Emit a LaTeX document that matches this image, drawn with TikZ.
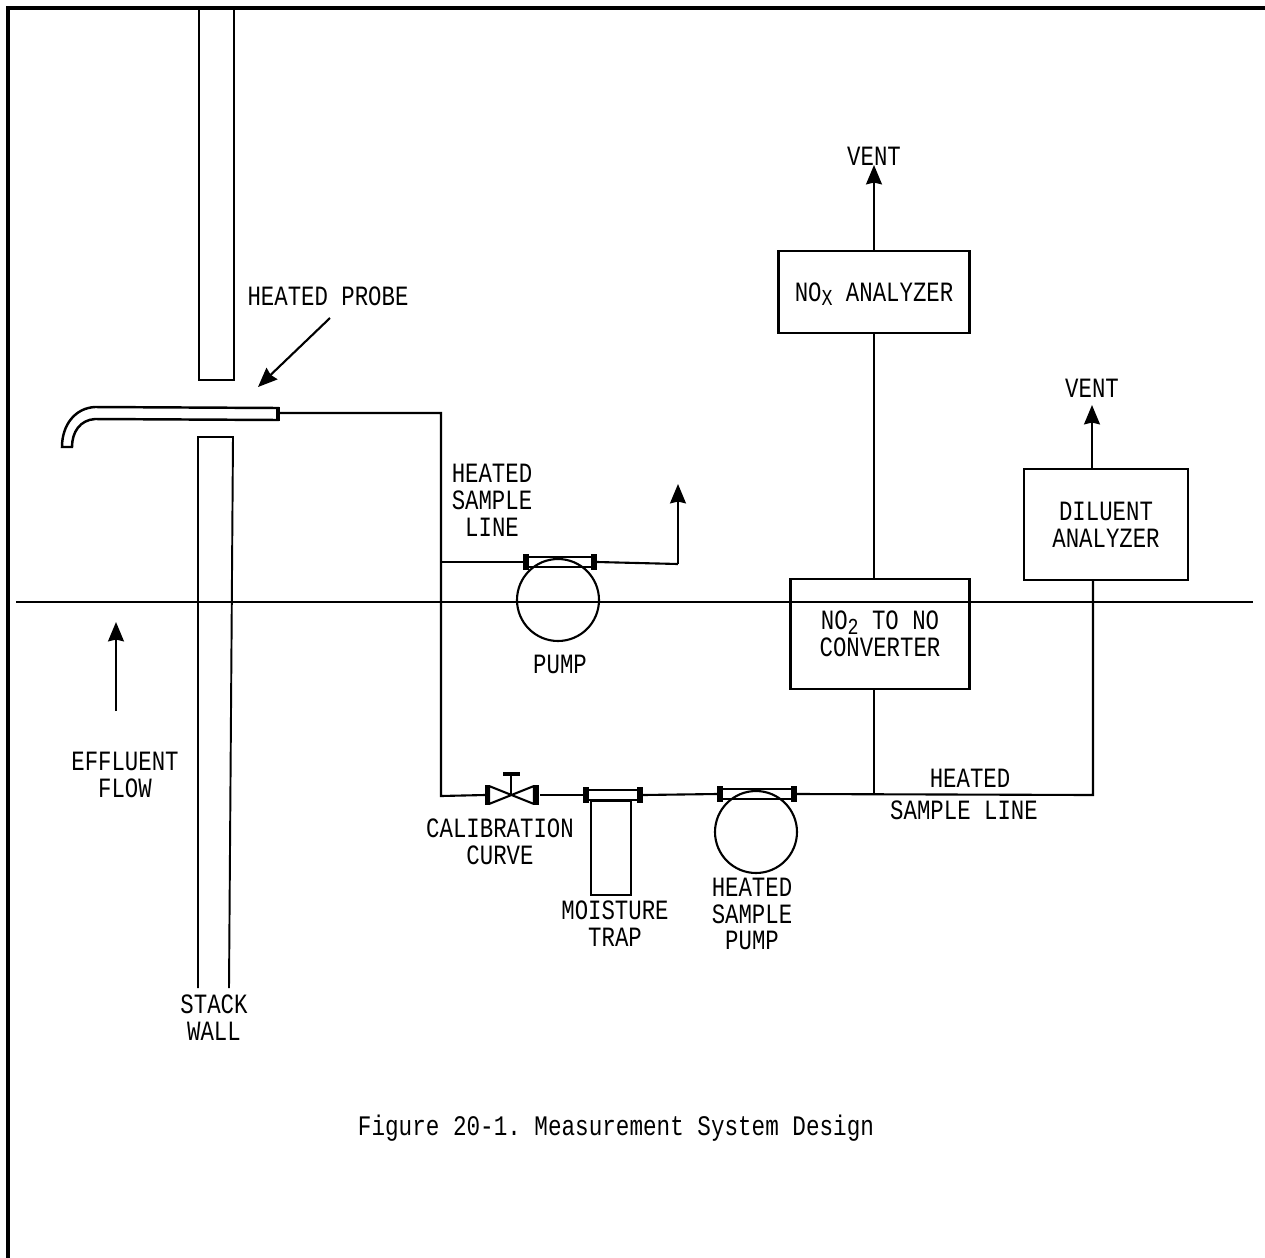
\documentclass[tikz,border=0pt]{standalone}
\usepackage{fontspec}
\usepackage{tikz}
\usetikzlibrary{arrows.meta, positioning, calc}
\newfontfamily\labelfont[FakeStretch=0.8]{Liberation Mono}
\newcommand{\lowsub}[1]{\smash{\raisebox{-0.3ex}{\fontsize{13}{13}\selectfont #1}}}

\begin{document}
\begin{tikzpicture}[
  x=0.02cm, y=-0.02cm,
  font=\labelfont\fontsize{15.9}{15.3}\selectfont\frenchspacing,
  label/.style={align=center, inner sep=0pt},
  unit/.style={rectangle, draw, line width=1.2pt, align=center, inner sep=0pt},
  pumpbody/.style={circle, draw, line width=1.2pt, minimum size=1.64cm, inner sep=0pt},
  header/.style={rectangle, draw, line width=1.2pt, minimum width=#1, minimum height=0.2cm, inner sep=0pt},
  line/.style={draw, line width=1.2pt},
  flow/.style={draw, line width=1.2pt, -{Stealth[length=11pt, width=9pt, inset=1pt]}}
]
  \useasboundingbox (0,0) rectangle (1265,1258);

  % page frame and the roof line
  \draw [line width=1.75pt] (8,1258) -- (8,8) -- (1265,8);
  \draw [line width=1.2pt] (16,602) -- (1253,602);

  % stack wall
  \draw [line width=1.1pt] (199,8) -- (199,380) -- (234,380) -- (234,8);
  \draw [line width=1.1pt] (198,988) -- (198,437) -- (233,437) -- (229,988);

  % probe
  \draw [line width=1.4pt] (278,408) -- (95,407) .. controls (75,408) and (62,425) .. (62,447)
    -- (72,447) .. controls (72,432) and (80,420) .. (95,419) -- (278,420) -- cycle;
  \fill (276,407) rectangle (280,421);
  \coordinate (probeout) at (279,413);
  \coordinate (teeone) at (441,562);
  \coordinate (elbow) at (441,796);
  \coordinate (bleed) at (678,564);
  \coordinate (bleedtop) at (678,484);
  \coordinate (probetail) at (330,318);
  \coordinate (probehead) at (258,387);
  \coordinate (flowtail) at (116,711);
  \coordinate (flowhead) at (116,622);

  % valve
  \coordinate (valvein) at (485,795);
  \coordinate (valvemid) at (511,795);
  \coordinate (valveout) at (540,795);
  \draw [line width=1.2pt, line join=round] (489,786) -- (534,804) -- (534,786) -- (489,804) -- cycle;
  \fill (485,785) rectangle (490,805);
  \fill (534,785) rectangle (539,805);
  \draw [line width=1.2pt] (valvemid) -- (511,774);
  \draw [line width=2pt] (503,774) -- (520,774);

  % equipment
  \node [header=1.44cm] (pumpbar) at (560,562) {};
  \node [pumpbody] (pump) at (558,600) {};
  \node [header=1.16cm] (trapbar) at (613,795) {};
  \node [unit, minimum width=0.8cm, minimum height=1.88cm, anchor=north] (trap) at (611,800) {};
  \node [header=1.56cm] (heatbar) at (757,794) {};
  \node [pumpbody] (heatpump) at (756,832) {};
  \foreach \barname in {pumpbar, trapbar, heatbar} {
    \fill ($(\barname.north west)+(0,-2)$) rectangle ($(\barname.south west)+(6,2)$);
    \fill ($(\barname.north east)+(-6,-2)$) rectangle ($(\barname.south east)+(0,2)$);
  }

  \node [unit, minimum width=3.82cm, minimum height=1.64cm] (noxbox) at (874,292) {NO\lowsub{X} ANALYZER};
  \node [unit, minimum width=3.58cm, minimum height=2.2cm] (converter) at (880,634) {NO\lowsub{2} TO NO\\CONVERTER};
  \node [unit, minimum width=3.28cm, minimum height=2.22cm] (diluent) at (1106,524.5) {DILUENT\\ANALYZER};

  \coordinate (teetwo) at (874,795);
  \coordinate (corner) at (1093,795);
  \coordinate (ventone) at (874,165);
  \coordinate (venttwo) at (1092,405);

  % connectors
  \draw [line] (probeout) -- (441,413) -- (elbow) -- (valvein);
  \draw [line] (teeone) -- (pumpbar.west);
  \draw [line] (pumpbar.east) -- (bleed);
  \draw [flow] (bleed) -- (bleedtop);
  \draw [line] (valveout) -- (trapbar.west);
  \draw [line] (trapbar.east) -- (heatbar.west);
  \draw [line] (heatbar.east) -- (corner) -- (diluent.south -| corner);
  \draw [line] (teetwo) -- (converter.south -| teetwo);
  \draw [line] (converter.north -| teetwo) -- (noxbox.south -| teetwo);
  \draw [flow] (noxbox.north -| ventone) -- (ventone);
  \draw [flow] (diluent.north -| venttwo) -- (venttwo);
  \draw [flow] (probetail) -- (probehead);
  \draw [flow] (flowtail) -- (flowhead);

  % labels
  \node [label] (vent) at (874,156) {VENT};
  \node [label] (ventb) at (1092,388) {VENT};
  \node [label] (probe) at (328,296) {HEATED PROBE};
  \node [label] (lineone) at (492,500) {HEATED\\SAMPLE\\LINE};
  \node [label] (pumpname) at (560,664) {PUMP};
  \node [label] (effluent) at (125,775) {EFFLUENT\\FLOW};
  \node [label] (calib) at (500,842) {CALIBRATION\\CURVE};
  \node [label] (moist) at (615,924) {MOISTURE\\TRAP};
  \node [label] (heatname) at (752,914) {HEATED\\SAMPLE\\PUMP};
  \node [label] (linetwo) at (970,778) {HEATED};
  \node [label] (linetwob) at (964,810) {SAMPLE LINE};
  \node [label] (stack) at (214,1018) {STACK\\WALL};
  \node [label, font=\labelfont\fontsize{16.1}{16}\selectfont\frenchspacing] (caption) at (616,1128) {Figure 20-1. Measurement System Design};
\end{tikzpicture}
\end{document}
